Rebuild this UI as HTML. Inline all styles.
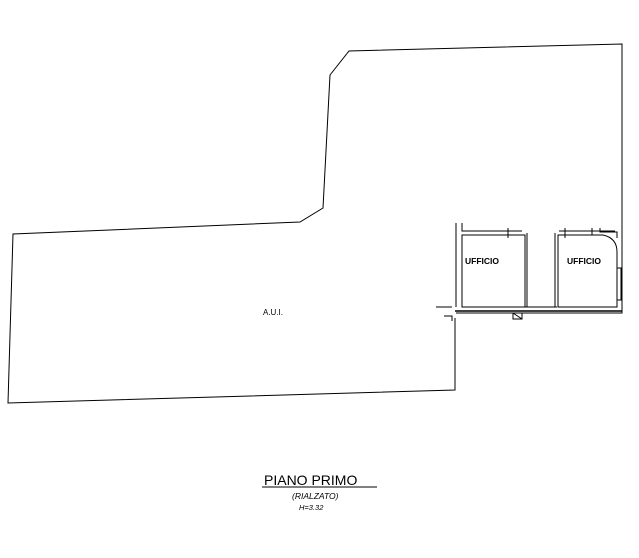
<!DOCTYPE html>
<html><head><style>body{margin:0;background:#fff}svg{display:block}</style></head><body>
<svg width="639" height="558" viewBox="0 0 639 558" xmlns="http://www.w3.org/2000/svg" font-family="Liberation Sans, sans-serif">
<g fill="none" stroke="#000" stroke-width="1">
<polyline points="456,313 622,313 622,44 349,51 330,75 323,208 300,222 13,234 8,403 455,390 455,318"/>
<!-- left office wall -->
<line x1="456" y1="223" x2="456" y2="307"/>
<polyline points="436,307 452,307"/>
<polyline points="444,316 452,316 452,321"/>
<polyline points="462,223 462,231 522,231"/>
<rect x="462" y="235" width="63" height="72"/>
<line x1="508" y1="228" x2="508" y2="238"/>
<line x1="527" y1="233" x2="527" y2="307"/>
<line x1="525" y1="307" x2="557" y2="307"/>
<line x1="555" y1="233" x2="555" y2="307"/>
<path d="M558 307 L558 235 L603 235 Q617 238 617 252 L617 307 Z"/>
<line x1="559" y1="231" x2="615" y2="231"/>
<line x1="565" y1="228" x2="565" y2="238"/>
<line x1="592" y1="228" x2="592" y2="235"/>
<polyline points="600,228 600,232 617,232 617,238"/>
<rect x="617" y="268" width="4" height="32"/>
<line x1="455" y1="311" x2="622" y2="311" stroke-width="1.5"/>
<polygon points="513,313 522,313 522,319 513,319"/>
<line x1="513" y1="313" x2="522" y2="319"/>
<line x1="262" y1="487" x2="377" y2="487"/>
</g>
<g font-size="8.5" font-weight="bold">
<text x="465" y="264">UFFICIO</text>
<text x="567" y="264">UFFICIO</text>
</g>
<text x="263" y="315" font-size="8">A.U.I.</text>
<text x="264" y="485" font-size="14">PIANO PRIMO</text>
<text x="292" y="499" font-size="8.5" font-style="italic">(RIALZATO)</text>
<text x="299" y="510" font-size="7.5" font-style="italic">H=3.32</text>
</svg>
</body></html>
